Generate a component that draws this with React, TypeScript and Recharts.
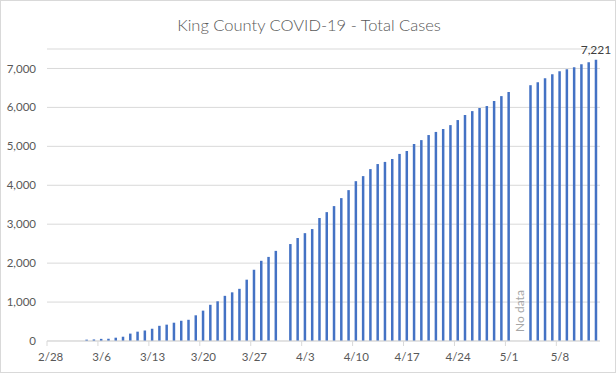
import { BarChart, Bar, XAxis, YAxis, CartesianGrid, ReferenceLine, LabelList } from 'recharts';

// one category per day, 2/28 .. 5/13 (2020)
const dates = [
  '2/28', '2/29', '3/1', '3/2', '3/3', '3/4', '3/5', '3/6', '3/7', '3/8',
  '3/9', '3/10', '3/11', '3/12', '3/13', '3/14', '3/15', '3/16', '3/17', '3/18',
  '3/19', '3/20', '3/21', '3/22', '3/23', '3/24', '3/25', '3/26', '3/27', '3/28',
  '3/29', '3/30', '3/31', '4/1', '4/2', '4/3', '4/4', '4/5', '4/6', '4/7',
  '4/8', '4/9', '4/10', '4/11', '4/12', '4/13', '4/14', '4/15', '4/16', '4/17',
  '4/18', '4/19', '4/20', '4/21', '4/22', '4/23', '4/24', '4/25', '4/26', '4/27',
  '4/28', '4/29', '4/30', '5/1', '5/2', '5/3', '5/4', '5/5', '5/6', '5/7',
  '5/8', '5/9', '5/10', '5/11', '5/12', '5/13',
];

const totalCases: (number | null)[] = [
  0, 0, 0, 0, 0, 35, 40, 55, 58, 85,
  110, 190, 240, 270, 315, 390, 420, 470, 520, 545,
  660, 780, 930, 1020, 1160, 1250, 1340, 1575, 1830, 2060,
  2160, 2315, null, 2490, 2645, 2770, 2875, 3160, 3310, 3465,
  3670, 3875, 4105, 4235, 4415, 4545, 4600, 4675, 4805, 4880,
  5060, 5160, 5290, 5370, 5445, 5545, 5675, 5805, 5905, 5985,
  6035, 6165, 6290, 6395, null, null, 6570, 6645, 6750, 6850,
  6930, 6980, 7030, 7110, 7160, 7221,
];

const yTicks = [0, 1000, 2000, 3000, 4000, 5000, 6000, 7000];
const noDataDate = '5/2';

const W = 616;
const H = 373;
const margin = { top: 49, right: 16, bottom: 0, left: 0 };
const yAxisWidth = 47;
const band = (W - margin.left - margin.right - yAxisWidth) / dates.length;

const last = dates.length - 1;
const data = dates.map((date, i) => ({
  date,
  cases: totalCases[i],
  tag: i === last ? totalCases[i] : null,
}));

const fmt = (v: number) => v.toLocaleString('en-US');
const FONT = 'Lato, "Open Sans", sans-serif';

function DateTick(props: any) {
  const { x, y, payload } = props;
  const tx = x - band / 2;
  return (
    <g>
      <line x1={tx} y1={y} x2={tx} y2={y + 5} stroke="#d9d9d9" />
      <text x={x} y={y + 20} textAnchor="middle" fill="#595959" fontSize={11.5} fontFamily={FONT}>
        {payload.value}
      </text>
    </g>
  );
}

function NoDataLabel(props: any) {
  const vb = props.viewBox || {};
  const cx = vb.x + band / 2;
  const cy = 311;
  return (
    <text
      x={cx}
      y={cy}
      transform={`rotate(-90 ${cx} ${cy})`}
      textAnchor="middle"
      dominantBaseline="central"
      fill="#a6a6a6"
      fontSize={12}
      fontFamily={FONT}
    >
      No data
    </text>
  );
}

export default function App() {
  return (
    <div
      style={{
        position: 'absolute',
        left: 0,
        top: 0,
        width: W,
        height: H,
        boxSizing: 'border-box',
        border: '1px solid #d9d9d9',
        background: '#fff',
      }}
    >
      <div
        style={{
          position: 'absolute',
          left: 0,
          top: 14,
          width: W,
          textAlign: 'center',
          fontFamily: FONT,
          fontWeight: 300,
          fontSize: 16.5,
          color: '#595959',
        }}
      >
        King County COVID-19 - Total Cases
      </div>
      <div style={{ position: 'absolute', left: -1, top: -1 }}>
        <BarChart width={W} height={H} data={data} margin={margin} barCategoryGap={0}>
          <CartesianGrid vertical={false} stroke="#d9d9d9" />
          <XAxis
            dataKey="date"
            height={32}
            interval={6}
            stroke="#d9d9d9"
            tickLine={false}
            tickSize={0}
            tickMargin={0}
            tick={<DateTick />}
          />
          <YAxis
            width={yAxisWidth}
            domain={[0, 7500]}
            ticks={yTicks}
            axisLine={false}
            tickLine={false}
            tickSize={0}
            tickMargin={11}
            tickFormatter={fmt}
            tick={{ fill: '#595959', fontSize: 11.5, fontFamily: FONT }}
          />
          <ReferenceLine x={noDataDate} stroke="none" label={<NoDataLabel />} />
          <Bar dataKey="cases" fill="#4472C4" barSize={2.5} isAnimationActive={false}>
            <LabelList
              dataKey="tag"
              position="top"
              offset={6}
              formatter={(v: any) => (v == null ? '' : fmt(v))}
              fill="#404040"
              fontSize={12}
              fontFamily={FONT}
            />
          </Bar>
        </BarChart>
      </div>
    </div>
  );
}
